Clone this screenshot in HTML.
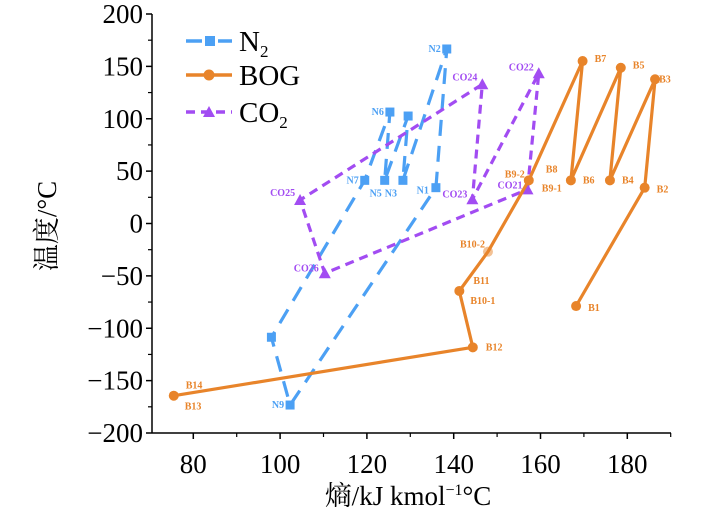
<!DOCTYPE html>
<html><head><meta charset="utf-8"><style>
html,body{margin:0;padding:0;background:#fff;}
svg{display:block;font-family:"Liberation Serif","Noto Serif CJK SC",serif;}
.pl{font-weight:bold;font-size:10px;}
</style></head><body>
<svg id="chart" width="709" height="516" viewBox="0 0 709 516"></svg>
<script>
const xTicks=[80,100,120,140,160,180];
const yTicks=[200,150,100,50,0,-50,-100,-150,-200];
const bogLabels=["B1","B2","B3","B4","B5","B6","B7","B8","B10-2","B11","B12","B13"];
const bogX=[168.2,184.0,186.4,176.0,178.5,167.0,169.7,157.3,147.9,141.3,144.4,75.5];
const bogY=[-78.8,34.2,137.7,41.2,148.7,41.2,155.1,41.2,-26.9,-64.4,-118.2,-164.4];
const n2Labels=["N1","N2","N3","","N5","N6","N7","","N9"];
const n2X=[135.9,138.4,128.3,129.5,124.1,125.3,119.5,98.0,102.3];
const n2Y=[34.2,166.6,41.2,102.6,41.2,106.4,41.2,-108.6,-173.3];
const co2Labels=["CO21","CO22","CO23","CO24","CO25","CO26"];
const co2X=[157.0,159.6,144.3,146.6,104.6,110.3];
const co2Y=[32.6,143.4,23.1,132.9,22.4,-47.5];

const svg=document.getElementById('chart');
const NS='http://www.w3.org/2000/svg';
const X0=152,X1=671,Y0=14,Y1=433;
function sx(v){return 193.3+(v-80)*4.34;}
function sy(v){return 14+(200-v)*1.0475;}
function mk(tag,attrs,parent){const e=document.createElementNS(NS,tag);for(const k in attrs)e.setAttribute(k,attrs[k]);(parent||svg).appendChild(e);return e;}
const BLUE='#4ca0f4',ORANGE='#e8842a',PURPLE='#a24cf2';

const ax=mk('g',{});


mk('line',{x1:X0,y1:Y0,x2:X0,y2:Y1,stroke:'#000','stroke-width':1.5},ax);
mk('line',{x1:X0,y1:Y1,x2:X1,y2:Y1,stroke:'#000','stroke-width':1.5},ax);
xTicks.forEach(v=>{
  mk('line',{x1:sx(v),y1:Y1,x2:sx(v),y2:Y1+6,stroke:'#000','stroke-width':1.5},ax);
  const m=sx(v+10); if(m<X1) mk('line',{x1:m,y1:Y1,x2:m,y2:Y1+4,stroke:'#000','stroke-width':1.2},ax);
  const t=mk('text',{x:sx(v),y:473,'font-size':27,'text-anchor':'middle'},ax);t.textContent=v;
  
  
});
{const m=sx(70);if(m>X0)mk('line',{x1:m,y1:Y1,x2:m,y2:Y1+4,stroke:'#000'},ax);}
yTicks.forEach(v=>{
  mk('line',{x1:X0-6,y1:sy(v),x2:X0,y2:sy(v),stroke:'#000','stroke-width':1.5},ax);
  if(v>-200) mk('line',{x1:X0-4,y1:sy(v-25),x2:X0,y2:sy(v-25),stroke:'#000','stroke-width':1.2},ax);
  const t=mk('text',{x:X0-9,y:sy(v)+9,'font-size':27,'text-anchor':'end'},ax);t.textContent=(v<0?'\u2212'+(-v):v);
  
  
});
const yt=mk('text',{x:0,y:0,'font-size':27,'text-anchor':'middle',transform:'translate(56,226) rotate(-90)'});
yt.textContent='温度/°C';


const xt=mk('text',{x:408,y:505,'font-size':27,'text-anchor':'middle'});
xt.innerHTML='熵/kJ kmol<tspan font-size="16" dy="-10">−1</tspan><tspan dy="10">°C</tspan>';



function series(name,xs,ys,color,dash,closed,marker,labels,offs){
  const g=mk('g',{});
  
  
  let d=xs.map((x,i)=>(i?'L':'M')+sx(x).toFixed(1)+' '+sy(ys[i]).toFixed(1)).join(' ');
  if(closed)d+=' Z';
  const p=mk('path',{d:d,fill:'none',stroke:color,'stroke-width':3.2,'stroke-dasharray':dash||'none','stroke-linejoin':'round'},g);
  
  
  xs.forEach((x,i)=>{
    const cx=sx(x),cy=sy(ys[i]);let m;
    if(marker==='sq') m=mk('rect',{x:cx-4.5,y:cy-4.5,width:9,height:9,fill:color},g);
    else if(marker==='tri') m=mk('polygon',{points:`${cx},${cy-6} ${cx+6},${cy+5} ${cx-6},${cy+5}`,fill:color},g);
    else m=mk('circle',{cx:cx,cy:cy,r:5,fill:color,opacity:labels[i]==='B10-2'?0.5:1},g);
    
    
    const o=offs[labels[i]];
    if(labels[i]&&o){
      const t=mk('text',{x:cx+o[0],y:cy+o[1]+3,'text-anchor':o[2]||'start',fill:color,class:'pl'},g);
      t.textContent=labels[i];
      
      
    }
  });
}
series('n2',n2X,n2Y,BLUE,'16 10',true,'sq',n2Labels,{
 'N1':[-7,3,'end'],'N2':[-6,0,'end'],'N3':[-12,13,'middle'],'N5':[-9,13,'middle'],'N6':[-6,0,'end'],'N7':[-6,0,'end'],'N9':[-6,0,'end']});
series('co2',co2X,co2Y,PURPLE,'9 6',true,'tri',co2Labels,{
 'CO21':[-5,-4,'end'],'CO22':[-5,-6,'end'],'CO23':[-5,-5,'end'],'CO24':[-5,-7,'end'],'CO25':[-5,-7,'end'],'CO26':[-6,-5,'end']});
series('bog',bogX,bogY,ORANGE,null,false,'circ',bogLabels,{
 'B1':[12,2],'B2':[12,2],'B3':[4,0],'B4':[12,0],'B5':[12,-2],'B6':[12,0],'B7':[12,-2],
 'B10-2':[-3,-7,'end'],'B11':[14,-10],'B12':[13,0],'B13':[11,11]});
[['B8',bogX[7],bogY[7],17,-11,'start',ORANGE],['B9-2',bogX[7],bogY[7],-4,-6,'end',ORANGE],['B9-1',bogX[7],bogY[7],13,8,'start',ORANGE],
 ['B10-1',bogX[9],bogY[9],11,10,'start',ORANGE],['B14',bogX[11],bogY[11],12,-10,'start',ORANGE]].forEach(a=>{
  const t=mk('text',{x:sx(a[1])+a[3],y:sy(a[2])+a[4]+3,'text-anchor':a[5],fill:a[6],class:'pl'});
  t.textContent=a[0];
  
  
});

const lg=mk('g',{});


[['N₂',BLUE,'16 6 4 6','sq',41],['BOG',ORANGE,null,'circ',75],['CO₂',PURPLE,'9 6','tri',112]].forEach(e=>{
  const g=mk('g',{},lg);
  
  
  const y=e[4];
  mk('line',{x1:186,y1:y,x2:232,y2:y,stroke:e[1],'stroke-width':3.5,'stroke-dasharray':e[2]||'none'},g);
  if(e[3]==='sq')mk('rect',{x:205,y:y-5,width:10,height:10,fill:e[1]},g);
  else if(e[3]==='circ')mk('circle',{cx:209,cy:y,r:5.5,fill:e[1]},g);
  else mk('polygon',{points:`209,${y-6} 215,${y+5} 203,${y+5}`,fill:e[1]},g);
  const t=mk('text',{x:239,y:y+10,'font-size':29},g);
  if(e[0]==='N₂')t.innerHTML='N<tspan font-size="17" dy="6">2</tspan>';
  else if(e[0]==='CO₂')t.innerHTML='CO<tspan font-size="17" dy="6">2</tspan>';
  else t.textContent=e[0];
});
</script>
</body></html>
